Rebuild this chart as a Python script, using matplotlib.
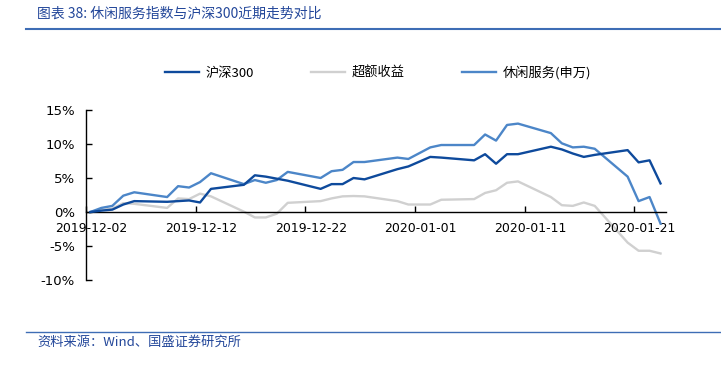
import matplotlib
matplotlib.use('Agg')
import matplotlib.pyplot as plt
from matplotlib.lines import Line2D
from matplotlib.ticker import FixedLocator, FixedFormatter, NullFormatter
import pandas as pd

plt.rcParams['font.family'] = ['DejaVu Sans', 'Noto Sans CJK SC']

# ---- data ----
dates = ['2019-12-02', '2019-12-03', '2019-12-04', '2019-12-05', '2019-12-06',
         '2019-12-09', '2019-12-10', '2019-12-11', '2019-12-12', '2019-12-13',
         '2019-12-16', '2019-12-17', '2019-12-18', '2019-12-19', '2019-12-20',
         '2019-12-23', '2019-12-24', '2019-12-25', '2019-12-26', '2019-12-27',
         '2019-12-30', '2019-12-31', '2020-01-02', '2020-01-03', '2020-01-06',
         '2020-01-07', '2020-01-08', '2020-01-09', '2020-01-10', '2020-01-13',
         '2020-01-14', '2020-01-15', '2020-01-16', '2020-01-17', '2020-01-20',
         '2020-01-21', '2020-01-22', '2020-01-23']
hs300 = [0, 0.2, 0.35, 1.1, 1.6, 1.5, 1.6, 1.7, 1.4, 3.4,
         4.0, 5.4, 5.2, 4.9, 4.6, 3.4, 4.1, 4.1, 5.0, 4.8,
         6.3, 6.7, 8.1, 8.0, 7.6, 8.5, 7.1, 8.5, 8.5, 9.6,
         9.2, 8.6, 8.1, 8.4, 9.1, 7.3, 7.6, 4.2]
excess = [0, 0.3, 0.5, 1.3, 1.2, 0.6, 2.0, 1.9, 2.7, 2.3,
          0.05, -0.8, -0.8, -0.25, 1.35, 1.6, 2.0, 2.3, 2.35, 2.3,
          1.6, 1.1, 1.1, 1.8, 1.9, 2.8, 3.2, 4.3, 4.5, 2.2,
          1.0, 0.9, 1.4, 0.9, -4.5, -5.7, -5.7, -6.1]
leisure = [0, 0.6, 0.9, 2.4, 2.9, 2.2, 3.8, 3.6, 4.4, 5.7,
           4.1, 4.7, 4.3, 4.7, 5.9, 5.0, 6.0, 6.2, 7.35, 7.35,
           8.0, 7.8, 9.5, 9.85, 9.85, 11.4, 10.5, 12.8, 13.0, 11.6,
           10.1, 9.5, 9.6, 9.3, 5.2, 1.6, 2.2, -1.7]
series_names = ['沪深300', '超额收益', '休闲服务(申万)']
tick_dates = ['2019-12-02', '2019-12-12', '2019-12-22', '2020-01-01', '2020-01-11', '2020-01-21']
y_ticks = [-10, -5, 0, 5, 10, 15]

title = '图表 38: 休闲服务指数与沪深300近期走势对比'
source = '资料来源：Wind、国盛证券研究所'

# ---- style ----
W, H = 721, 366
c_hs = '#0E4A9C'
c_ex = '#D0D0D0'
c_le = '#4C86C8'
c_txt = '#23479A'
cjk = ['Noto Sans CJK SC', 'DejaVu Sans']

fig = plt.figure(figsize=(W / 100, H / 100), dpi=100)
ax = fig.add_axes([86 / W, 1 - 280 / H, 580 / W, 170 / H])

start = pd.Timestamp(dates[0])
x = (pd.to_datetime(dates) - start).days.values + 0.4
tx = (pd.to_datetime(tick_dates) - start).days.values

l1, = ax.plot(x, hs300, color=c_hs, lw=1.7, label=series_names[0])
l2, = ax.plot(x, excess, color=c_ex, lw=1.7, label=series_names[1])
l3, = ax.plot(x, leisure, color=c_le, lw=1.7, label=series_names[2])
l2.set_zorder(1); l1.set_zorder(3); l3.set_zorder(2)

ax.set_xlim(0, 52.9)
ax.set_ylim(-10, 15)

for s in ['top', 'right']:
    ax.spines[s].set_visible(False)
ax.spines['bottom'].set_position(('data', 0))
ax.spines['bottom'].set_linewidth(1.0)
ax.spines['left'].set_linewidth(1.0)

ax.xaxis.set_major_locator(FixedLocator(tx))
ax.xaxis.set_major_formatter(NullFormatter())
ax.xaxis.set_minor_locator(FixedLocator(tx + 0.5))
ax.xaxis.set_minor_formatter(FixedFormatter(tick_dates))
ax.tick_params(axis='x', which='major', direction='in', length=4, width=1)
ax.tick_params(axis='x', which='minor', length=0, pad=7, labelsize=9)

ax.set_yticks(y_ticks)
ax.set_yticklabels([f'{v}%' for v in y_ticks])
ax.tick_params(axis='y', direction='in', length=4, width=1, pad=8, labelsize=9.5)

fig.legend(handles=[l1, l2, l3], labels=series_names, loc='center',
           bbox_to_anchor=(378 / W, 1 - 73 / H), ncol=3, frameon=False,
           handlelength=2.6, columnspacing=4.3, handletextpad=0.5,
           prop={'family': cjk, 'size': 9.5})

fig.text(37 / W, 1 - 14 / H, title, ha='left', va='center', color=c_txt,
         fontsize=10, family=cjk)
fig.add_artist(Line2D([26 / W, 1], [1 - 29 / H, 1 - 29 / H], transform=fig.transFigure,
                      color='#3E6DB5', lw=1.5))
fig.add_artist(Line2D([26 / W, 1], [1 - 332 / H, 1 - 332 / H], transform=fig.transFigure,
                      color='#3E6DB5', lw=1.0))
fig.text(37 / W, 1 - 342 / H, source, ha='left', va='center', color=c_txt,
         fontsize=9.5, family=cjk)

fig.savefig('out.png', dpi=100)
